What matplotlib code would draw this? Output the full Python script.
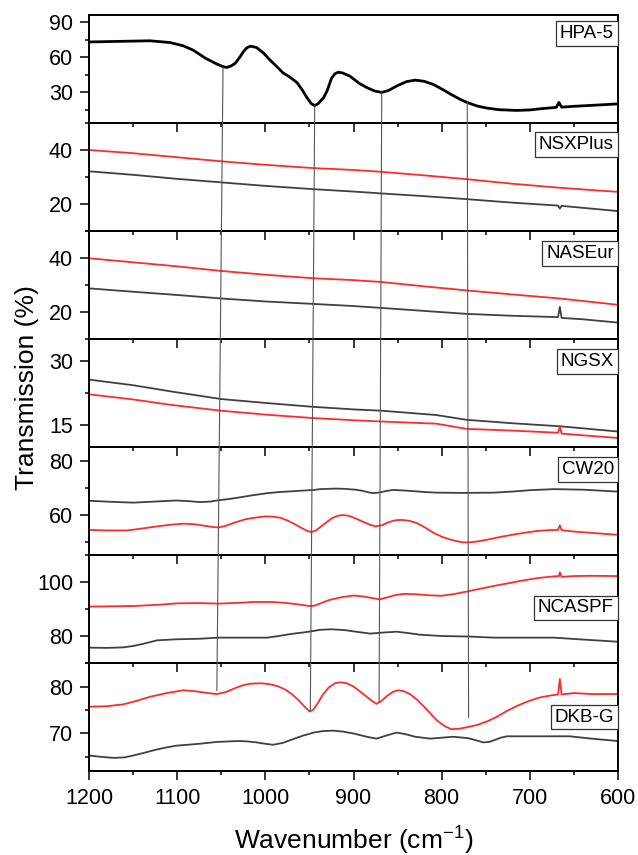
import numpy as np
import matplotlib
matplotlib.use('Agg')
import matplotlib.pyplot as plt
from matplotlib.patches import ConnectionPatch
from matplotlib.ticker import MultipleLocator

plt.rcParams['font.family'] = ['Liberation Sans', 'DejaVu Sans']
plt.rcParams['mathtext.fontset'] = 'custom'
plt.rcParams['mathtext.rm'] = 'Liberation Sans'

RED = '#ff2b2b'
GREY = '#404040'

# HPA-5 (single black trace)
hpa_w = [1200, 1160, 1131, 1108, 1093, 1082, 1068, 1055, 1048, 1044, 1039, 1034, 1029, 1025, 1021,
         1017, 1010, 1002, 995, 987, 980, 972, 964, 958, 953, 948, 944, 940, 934, 930, 925, 921, 917,
         912, 904, 893, 885, 876, 868, 860, 851, 840, 830, 820, 810, 800, 790, 780, 772, 760, 749,
         735, 715, 700, 688, 670, 667, 664, 650, 635, 601]
hpa_t = [73.0, 73.6, 74.0, 72.5, 69.7, 66.1, 59.2, 54.2, 52.0, 51.3, 52.5, 55.0, 60.0, 64.7, 68.0,
         69.4, 68.3, 63.5, 57.8, 52.0, 46.7, 43.0, 38.3, 32.0, 25.8, 20.5, 18.8, 20.5, 25.5, 31.3, 42.0, 46.0, 47.3,
         46.5, 43.8, 37.5, 34.2, 31.2, 30.0, 31.8, 35.5, 39.2, 40.5, 39.5, 37.0, 33.0, 28.6, 24.5, 21.7, 18.5, 16.7,
         15.3, 14.7, 15.1, 16.1, 17.3, 21.5, 17.5, 18.2, 18.8, 20.2]

# NSXPlus
nsx_red_w = [1200, 1150, 1100, 1050, 1000, 946, 900, 868, 820, 772, 720, 666, 601]
nsx_red_t = [40.0, 38.8, 37.3, 35.8, 34.5, 33.3, 32.6, 31.9, 30.6, 29.2, 27.5, 26.0, 24.5]
nsx_grey_w = [1200, 1150, 1100, 1050, 1000, 946, 900, 868, 820, 772, 720, 668, 666, 664, 601]
nsx_grey_t = [32.1, 30.8, 29.3, 28.0, 26.7, 25.5, 24.6, 23.9, 22.9, 21.8, 20.5, 19.4, 18.3, 19.3, 17.4]

# NASEur
nas_red_w = [1200, 1150, 1100, 1050, 1000, 946, 900, 868, 820, 772, 720, 666, 601]
nas_red_t = [39.9, 38.4, 36.9, 35.2, 33.8, 32.5, 31.8, 31.1, 29.5, 28.0, 26.5, 25.0, 22.7]
nas_grey_w = [1200, 1150, 1100, 1050, 1000, 946, 900, 868, 820, 772, 720, 668, 666, 664, 640, 601]
nas_grey_t = [28.75, 27.5, 26.3, 25.0, 23.9, 23.0, 22.2, 21.5, 20.4, 19.3, 18.6, 18.1, 21.9, 17.8, 17.3, 16.1]

# NGSX
ngs_grey_w = [1200, 1150, 1105, 1050, 1000, 946, 900, 868, 806, 772, 720, 666, 601]
ngs_grey_t = [25.6, 24.3, 22.8, 21.1, 20.2, 19.3, 18.7, 18.4, 17.4, 16.3, 15.5, 14.8, 13.6]
ngs_red_w = [1200, 1150, 1105, 1050, 1000, 946, 900, 868, 806, 772, 720, 668, 666, 664, 601]
ngs_red_t = [22.2, 21.0, 19.7, 18.4, 17.5, 16.7, 16.2, 15.9, 15.4, 14.2, 13.8, 13.3, 14.8, 13.1, 12.1]

# CW20
cw_grey_w = [1200, 1175, 1150, 1125, 1101, 1085, 1074, 1062, 1055, 1040, 1030, 1015, 998, 985, 970,
             945, 938, 920, 910, 898, 890, 883, 877, 870, 863, 855, 843, 830, 818, 806, 775, 741,
             720, 700, 673, 640, 601]
cw_grey_t = [65.1, 64.7, 64.4, 64.8, 65.2, 64.9, 64.6, 64.8, 65.2, 65.8, 66.3, 67.1, 67.9, 68.3, 68.6,
             69.1, 69.4, 69.6, 69.5, 69.2, 68.8, 68.2, 67.9, 68.2, 68.7, 69.1, 68.9, 68.6, 68.3, 68.1, 68.0, 68.1,
             68.5, 69.0, 69.4, 69.2, 68.5]
cw_red_w = [1200, 1180, 1157, 1140, 1125, 1108, 1093, 1080, 1068, 1058, 1053, 1045, 1035, 1022, 1010,
            1000, 992, 983, 975, 967, 960, 953, 948, 943, 937, 930, 924, 917, 912, 905, 898, 890, 882,
            875, 868, 860, 852, 845, 837, 829, 822, 815, 808, 800, 792, 784, 776, 768, 760, 748, 735,
            720, 705, 692, 678, 668, 666, 664, 650, 630, 601]
cw_red_t = [54.3, 54.1, 54.1, 54.8, 55.5, 56.2, 56.6, 56.4, 55.8, 55.3, 55.2, 55.8, 57.0, 58.3, 58.9,
            59.3, 59.2, 58.8, 57.8, 56.5, 55.2, 54.0, 53.5, 54.0, 55.5, 57.3, 58.7, 59.6, 59.8, 59.5, 58.6, 57.4, 56.3,
            55.6, 56.0, 57.2, 57.9, 58.0, 57.7, 56.9, 55.8, 54.4, 53.0, 51.8, 50.9, 50.2, 49.7, 49.7, 50.0, 50.7, 51.6,
            52.5, 53.3, 53.9, 54.2, 54.3, 56.0, 54.2, 53.7, 53.2, 52.5]

# NCASPF
nca_red_w = [1200, 1150, 1120, 1100, 1075, 1053, 1030, 1014, 991, 975, 960, 950, 945, 938, 928, 915,
             900, 888, 878, 870, 862, 852, 843, 830, 815, 800, 785, 768, 755, 740, 725, 711, 700, 690,
             673, 667, 666, 664, 650, 630, 601]
nca_red_t = [90.9, 91.1, 91.6, 92.1, 92.2, 92.0, 92.3, 92.6, 92.6, 92.2, 91.6, 91.1, 91.2, 92.0, 93.3, 94.3,
             95.0, 94.6, 94.0, 93.6, 94.3, 95.2, 95.6, 95.5, 95.1, 94.9, 95.6, 96.7, 97.6, 98.6, 99.5, 100.4, 101.0, 101.5,
             102.1, 102.2, 103.6, 101.9, 102.2, 102.3, 102.2]
nca_grey_w = [1200, 1180, 1161, 1150, 1140, 1130, 1123, 1100, 1074, 1053, 1025, 998, 985, 970, 955,
              945, 938, 925, 910, 895, 881, 866, 851, 838, 825, 800, 768, 741, 700, 673, 640, 620, 601]
nca_grey_t = [75.7, 75.6, 75.8, 76.3, 77.0, 77.8, 78.4, 78.8, 79.0, 79.4, 79.4, 79.4, 80.0, 80.8, 81.4,
              81.9, 82.3, 82.5, 82.2, 81.5, 80.9, 81.3, 81.6, 81.1, 80.5, 80.0, 79.8, 79.4, 79.4, 79.4, 78.7, 78.3, 77.9]

# DKB-G
dkb_red_w = [1200, 1180, 1161, 1145, 1131, 1112, 1093, 1080, 1065, 1055, 1045, 1035, 1025, 1017, 1005,
             995, 985, 977, 970, 963, 956, 950, 946, 941, 935, 928, 921, 915, 908, 900, 893, 885, 878,
             874, 869, 862, 855, 849, 843, 836, 828, 820, 812, 805, 797, 789, 780, 772, 760, 748, 737,
             726, 713, 700, 688, 676, 668, 666, 664, 650, 630, 601]
dkb_red_t = [75.7, 75.8, 76.2, 77.0, 77.8, 78.6, 79.2, 79.0, 78.6, 78.4, 78.8, 79.6, 80.3, 80.6, 80.7,
             80.5, 80.0, 79.3, 78.4, 77.2, 75.8, 74.7, 75.0, 76.3, 78.2, 79.8, 80.7, 80.9, 80.7, 80.0, 79.0, 77.8, 76.8,
             76.3, 76.8, 78.0, 78.9, 79.2, 79.0, 78.4, 77.2, 75.7, 74.1, 72.7, 71.6, 70.9, 71.0, 71.3, 71.8, 72.6, 73.6,
             74.8, 76.0, 77.0, 77.7, 78.1, 78.3, 81.6, 78.3, 78.6, 78.4, 78.4]
dkb_grey_w = [1200, 1185, 1172, 1160, 1150, 1137, 1125, 1113, 1101, 1088, 1075, 1055, 1030, 1020, 1010,
              1000, 991, 980, 970, 958, 945, 935, 923, 912, 900, 885, 874, 862, 851, 840, 830, 813, 800,
              787, 770, 760, 753, 746, 740, 733, 726, 700, 655, 630, 601]
dkb_grey_t = [65.3, 65.0, 64.8, 64.9, 65.3, 65.9, 66.5, 67.0, 67.4, 67.6, 67.8, 68.2, 68.4, 68.3, 68.1,
              67.8, 67.6, 68.0, 68.7, 69.5, 70.2, 70.5, 70.6, 70.4, 70.0, 69.3, 68.9, 69.6, 70.2, 69.8, 69.3, 68.9, 69.1,
              69.3, 69.0, 68.5, 68.1, 68.2, 68.6, 69.1, 69.4, 69.4, 69.4, 68.9, 68.4]

# panel settings: name, ylim, major, minor, label height (axes fraction)
panels = [
    ('HPA-5', (4, 96), 30, 15, 0.83),
    ('NSXPlus', (10, 50), 20, 10, 0.80),
    ('NASEur', (10, 50), 20, 10, 0.79),
    ('NGSX', (10, 35), 15, 7.5, 0.79),
    ('CW20', (45, 85), 20, 10, 0.79),
    ('NCASPF', (70, 110), 20, 10, 0.51),
    ('DKB-G', (62, 85), 10, 5, 0.50),
]

traces = [
    [(hpa_w, hpa_t, 'black', 2.0)],
    [(nsx_red_w, nsx_red_t, RED, 1.3), (nsx_grey_w, nsx_grey_t, GREY, 1.3)],
    [(nas_red_w, nas_red_t, RED, 1.3), (nas_grey_w, nas_grey_t, GREY, 1.3)],
    [(ngs_grey_w, ngs_grey_t, GREY, 1.3), (ngs_red_w, ngs_red_t, RED, 1.3)],
    [(cw_grey_w, cw_grey_t, GREY, 1.3), (cw_red_w, cw_red_t, RED, 1.3)],
    [(nca_red_w, nca_red_t, RED, 1.3), (nca_grey_w, nca_grey_t, GREY, 1.3)],
    [(dkb_red_w, dkb_red_t, RED, 1.3), (dkb_grey_w, dkb_grey_t, GREY, 1.3)],
]

# guide lines: (wavenumber, T) in top panel -> (wavenumber, T) in bottom panel
guides = [((1048, 51.5), (1055, 79.1)),
          ((944, 18.8), (949, 74.6)),
          ((868, 30.0), (871, 76.6)),
          ((771, 21.7), (769.5, 73.4))]

fig, axes = plt.subplots(7, 1, figsize=(6.38, 8.55), dpi=100, sharex=True)
fig.subplots_adjust(left=0.1395, right=0.9687, top=0.9825, bottom=0.0982, hspace=0)

for ax, (name, ylim, major, minor, ly), tr in zip(axes, panels, traces):
    ax.set_facecolor('none')
    for w, t, c, lw in tr:
        ax.plot(w, t, color=c, lw=lw, solid_joinstyle='round')
    ax.set_ylim(*ylim)
    ax.set_xlim(1200, 600)
    ax.yaxis.set_major_locator(MultipleLocator(major))
    ax.yaxis.set_minor_locator(MultipleLocator(minor))
    ax.xaxis.set_major_locator(MultipleLocator(100))
    ax.xaxis.set_minor_locator(MultipleLocator(50))
    ax.tick_params(which='both', direction='out', width=1.1, labelsize=15.5,
                   top=False, right=False)
    ax.tick_params(axis='y', pad=5)
    ax.tick_params(axis='x', pad=6)
    ax.tick_params(which='major', length=6.5)
    ax.tick_params(which='minor', length=3)
    for s in ax.spines.values():
        s.set_linewidth(1.4)
    ax.text(0.992, ly, name, transform=ax.transAxes, ha='right', va='center', fontsize=13.5,
            bbox=dict(boxstyle='square,pad=0.2', fc='white', ec='#333333', lw=0.9))

axes[-1].set_xticks([1200, 1100, 1000, 900, 800, 700, 600])
axes[-1].set_xlabel('Wavenumber (cm$^{\\mathregular{-1}}$)', fontsize=19, labelpad=10)
fig.text(0.042, 0.547, 'Transmission (%)', rotation=90, ha='center', va='center', fontsize=19)

for (a, b) in guides:
    con = ConnectionPatch(xyA=a, coordsA=axes[0].transData, xyB=b, coordsB=axes[-1].transData,
                          color='#555555', lw=0.8)
    fig.add_artist(con)

plt.savefig('out.png', dpi=100)
